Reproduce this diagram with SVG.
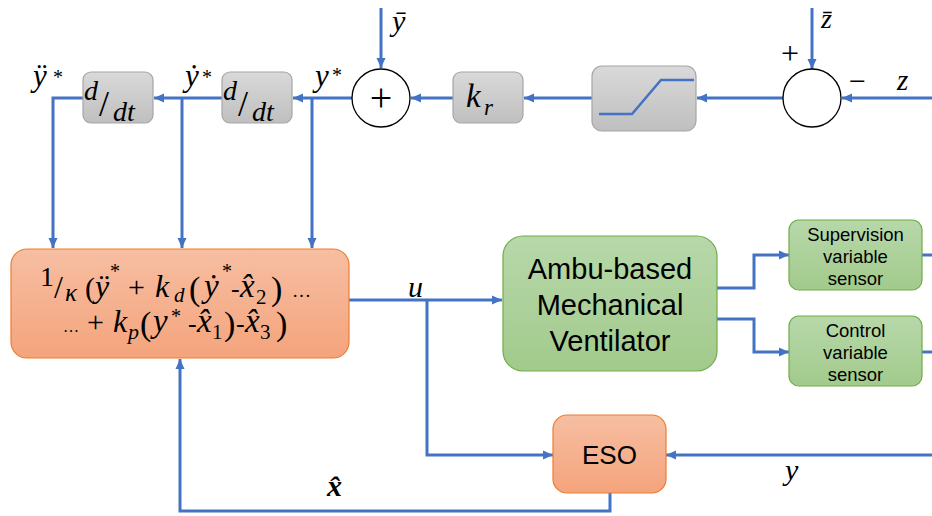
<svg xmlns="http://www.w3.org/2000/svg" width="932" height="516" viewBox="0 0 932 516">
<defs>
<linearGradient id="gGray" x1="0" y1="0" x2="0" y2="1"><stop offset="0" stop-color="#D9D9D9"/><stop offset="1" stop-color="#BFBFBF"/></linearGradient>
<linearGradient id="gOr" x1="0" y1="0" x2="0" y2="1"><stop offset="0" stop-color="#F7BEA2"/><stop offset="1" stop-color="#F4A47C"/></linearGradient>
<linearGradient id="gGr" x1="0" y1="0" x2="0" y2="1"><stop offset="0" stop-color="#B7D8AA"/><stop offset="1" stop-color="#A2CA8C"/></linearGradient>
<marker id="ah" markerUnits="userSpaceOnUse" markerWidth="11" markerHeight="10" refX="10" refY="5" orient="auto"><path d="M0,0.5 L10,5 L0,9.5 z" fill="#4472C4"/></marker>
<style>
.gray{fill:url(#gGray);stroke:#A6A6A6;stroke-width:1.2}
.or{fill:url(#gOr);stroke:#ED7D31;stroke-width:1.2}
.gr{fill:url(#gGr);stroke:#70AD47;stroke-width:1.2}
.sum{fill:#FFFFFF;stroke:#000000;stroke-width:1.3}
.c{fill:none;stroke:#4472C4;stroke-width:3}
.a{marker-end:url(#ah)}
.m{font-family:"Liberation Serif","DejaVu Serif",serif;font-style:italic;fill:#000}
.r{font-family:"Liberation Serif","DejaVu Serif",serif;font-style:normal;fill:#000}
.s{font-family:"Liberation Sans",Arial,sans-serif;fill:#000;text-anchor:middle}
</style>
</defs>
<rect width="932" height="516" fill="#FFFFFF"/>

<g id="connectors">
<path class="c a" d="M932,98 L842,98"/>
<path class="c a" d="M812,8 L812,69"/>
<path class="c a" d="M783,98 L697,98"/>
<path class="c a" d="M592,98 L524,98"/>
<path class="c a" d="M453,98 L411,98"/>
<path class="c a" d="M381,8 L381,68"/>
<path class="c a" d="M352,98 L293,98"/>
<path class="c a" d="M222,98 L154,98"/>
<path class="c a" d="M83,98 L53,98 L53,248"/>
<path class="c a" d="M182,98 L182,248"/>
<path class="c a" d="M312,98 L312,248"/>
<path class="c a" d="M349,300 L502,300"/>
<path class="c a" d="M427,300 L427,455 L553,455"/>
<path class="c a" d="M717,288 L754,288 L754,255 L789,255"/>
<path class="c a" d="M717,319 L754,319 L754,352 L789,352"/>
<path class="c" d="M922,255 L932,255"/>
<path class="c" d="M922,352 L932,352"/>
<path class="c a" d="M932,455 L666,455"/>
<path class="c a" d="M610,493 L610,511 L180,511 L180,359"/>
</g>

<g id="labels">
<text class="m" x="33" y="86" font-size="31">ÿ</text><text class="r" x="53" y="84" font-size="20">*</text>
<text class="m" x="185" y="86" font-size="31">ẏ</text><text class="r" x="202" y="84" font-size="20">*</text>
<text class="m" x="315" y="86" font-size="31">y</text><text class="r" x="332" y="82" font-size="20">*</text>
<text class="m" x="392" y="31" font-size="30">ȳ</text>
<text class="m" x="821" y="28" font-size="28">z&#x304;</text>
<text class="r" x="781" y="64" font-size="32">+</text>
<text class="r" x="849" y="91" font-size="30">−</text>
<text class="m" x="897" y="90" font-size="29">z</text>
<text class="m" x="408" y="297" font-size="30">u</text>
<text class="m" x="785" y="480" font-size="30">y</text>
<text class="m" x="327" y="496" font-size="30" font-weight="bold">x&#x302;</text>
</g>

<g id="d_dt_1">
<rect class="gray" x="83" y="72" width="70" height="51" rx="8"/>
<text class="m" x="84" y="100" font-size="28">d</text><text class="r" x="99" y="116" font-size="36">/</text><text class="m" x="113" y="121" font-size="28">dt</text>
</g>
<g id="d_dt_2">
<rect class="gray" x="222" y="72" width="70" height="51" rx="8"/>
<text class="m" x="223" y="100" font-size="28">d</text><text class="r" x="238" y="116" font-size="36">/</text><text class="m" x="252" y="121" font-size="28">dt</text>
</g>
<g id="sum_1">
<circle class="sum" cx="381" cy="98" r="29"/>
<text class="r" x="381" y="111" font-size="40" text-anchor="middle">+</text>
</g>
<g id="k_r">
<rect class="gray" x="453" y="72" width="70" height="51" rx="8"/>
<text class="m" x="466" y="107" font-size="33">k</text><text class="m" x="484" y="115" font-size="23">r</text>
</g>
<g id="saturation">
<rect class="gray" x="592" y="66" width="104" height="65" rx="10"/>
<path d="M599,114 L632,114 L661,80 L694,80" fill="none" stroke="#4472C4" stroke-width="2.5"/>
</g>
<g id="sum_2">
<circle class="sum" cx="812" cy="98" r="29"/>
</g>

<g id="controller">
<rect class="or" x="11" y="249" width="338" height="109" rx="16"/>
<text class="r" font-size="28" x="40" y="286">1</text>
<text class="r" font-size="32" x="54" y="298">/</text>
<text class="m" font-size="25" x="65" y="301">κ</text>
<text class="r" font-size="30" x="85" y="298">(</text>
<text class="m" font-size="32" x="95" y="297">ÿ</text>
<text class="r" font-size="20" x="110" y="278">*</text>
<text class="r" font-size="30" x="128" y="297">+</text>
<text class="m" font-size="32" x="155" y="297">k</text>
<text class="m" font-size="21" x="174" y="302">d</text>
<text class="r" font-size="34" x="189" y="300">(</text>
<text class="m" font-size="33" x="204" y="297">ẏ</text>
<text class="r" font-size="20" x="222" y="278">*</text>
<text class="r" font-size="26" x="231" y="297">-</text>
<text class="m" font-size="33" x="240" y="297">x&#x302;</text>
<text class="r" font-size="21" x="256" y="304">2</text>
<text class="r" font-size="34" x="271" y="300">)</text>
<text class="r" font-size="19" x="292" y="297">…</text>
<text class="r" font-size="16" x="63" y="332">…</text>
<text class="r" font-size="30" x="87" y="332">+</text>
<text class="m" font-size="32" x="113" y="332">k</text>
<text class="m" font-size="22" x="128" y="339">p</text>
<text class="r" font-size="34" x="140" y="335">(</text>
<text class="m" font-size="33" x="153" y="332">y</text>
<text class="r" font-size="20" x="171" y="323">*</text>
<text class="r" font-size="26" x="188" y="332">-</text>
<text class="m" font-size="33" x="197" y="332">x&#x302;</text>
<text class="r" font-size="21" x="212" y="339">1</text>
<text class="r" font-size="34" x="224" y="335">)</text>
<text class="r" font-size="26" x="236" y="332">-</text>
<text class="m" font-size="33" x="245" y="332">x&#x302;</text>
<text class="r" font-size="21" x="260" y="339">3</text>
<text class="r" font-size="34" x="276" y="335">)</text>
</g>

<g id="ventilator">
<rect class="gr" x="503" y="236" width="214" height="135" rx="20"/>
<text class="s" x="610" y="279" font-size="29">Ambu-based</text>
<text class="s" x="610" y="315" font-size="29">Mechanical</text>
<text class="s" x="610" y="351" font-size="29">Ventilator</text>
</g>
<g id="supervision_sensor">
<rect class="gr" x="789" y="220" width="133" height="70" rx="10"/>
<text class="s" x="855.5" y="241" font-size="18.5">Supervision</text>
<text class="s" x="855.5" y="263" font-size="18.5">variable</text>
<text class="s" x="855.5" y="285" font-size="18.5">sensor</text>
</g>
<g id="control_sensor">
<rect class="gr" x="789" y="316" width="133" height="70" rx="10"/>
<text class="s" x="855.5" y="337" font-size="18.5">Control</text>
<text class="s" x="855.5" y="359" font-size="18.5">variable</text>
<text class="s" x="855.5" y="381" font-size="18.5">sensor</text>
</g>
<g id="eso">
<rect class="or" x="553" y="415" width="113" height="78" rx="14"/>
<text class="s" x="609.5" y="464" font-size="26">ESO</text>
</g>
</svg>
